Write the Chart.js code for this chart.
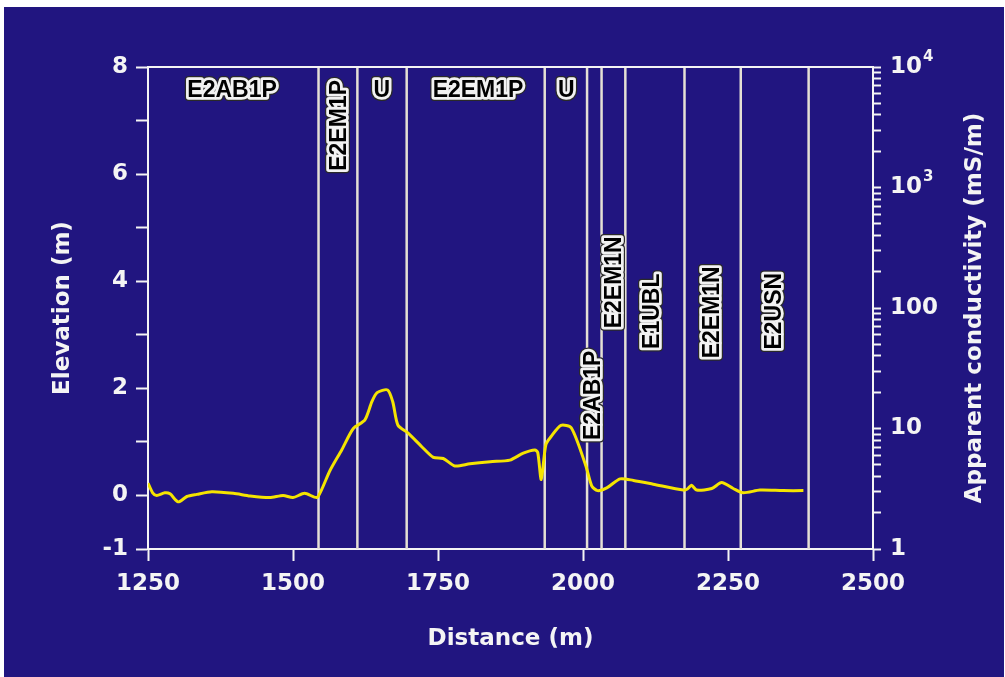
<!DOCTYPE html>
<html>
<head>
<meta charset="utf-8">
<script src="https://cdn.jsdelivr.net/npm/chart.js@4/dist/chart.umd.min.js"></script>
<style>
  html, body { margin: 0; padding: 0; background: #fff; }
  #wrap {
    position: absolute; left: 4px; top: 7px;
    width: 1000px; height: 670px;
    background: #211580;
  }
</style>
</head>
<body>
<div id="wrap"><canvas id="chart"></canvas></div>
<script>
/* ── Data ───────────────────────────────────────────────── */

// elevation profile along the transect
const distance  = [1250, 1258, 1265, 1279, 1288, 1302, 1317, 1334, 1360, 1397,
                   1426, 1460, 1483, 1500, 1520, 1541, 1549, 1564, 1584, 1604,
                   1624, 1636, 1645, 1663, 1672, 1681, 1699, 1722, 1742, 1759,
                   1779, 1805, 1840, 1874, 1897, 1917, 1922, 1928, 1936, 1945,
                   1962, 1980, 2005, 2015, 2025, 2041, 2064, 2087, 2121, 2173,
                   2180, 2187, 2196, 2222, 2239, 2259, 2276, 2305, 2345, 2380];
const elevation = [0.23, 0.05, 0.00, 0.05, 0.03, -0.12, -0.02, 0.02, 0.07, 0.04,
                   -0.01, -0.04, 0.00, -0.04, 0.04, -0.04, 0.10, 0.47, 0.85, 1.25,
                   1.41, 1.75, 1.92, 1.97, 1.75, 1.31, 1.16, 0.91, 0.71, 0.69,
                   0.55, 0.59, 0.63, 0.66, 0.79, 0.85, 0.80, 0.30, 0.95, 1.10,
                   1.31, 1.26, 0.55, 0.18, 0.09, 0.14, 0.31, 0.28, 0.21, 0.10,
                   0.12, 0.19, 0.10, 0.13, 0.24, 0.13, 0.05, 0.10, 0.09, 0.09];

// unit boundaries (m)
const boundaries = [1544, 1611, 1696, 1934, 2007, 2032, 2073, 2175, 2272, 2389];

// unit labels, anchored in data coordinates
const unitNames    = ['E2AB1P', 'E2EM1P', 'U', 'E2EM1P', 'U', 'E2AB1P', 'E2EM1N', 'E1UBL', 'E2EM1N', 'E2USN'];
const unitDist     = [1395, 1579, 1653, 1819, 1971, 2017, 2053, 2119, 2222, 2329];
const unitElev     = [7.58, 6.91, 7.58, 7.58, 7.58, 1.87, 3.98, 3.44, 3.42, 3.44];
const unitVertical = [false, true, false, false, false, true, true, true, true, true];

// tick labels
const elevLabels = [-1, 0, 2, 4, 6, 8];
const condBase   = { 1: '1', 10: '10', 100: '100', 1000: '10', 10000: '10' };
const condExp    = { 1000: '3', 10000: '4' };


/* ── Config ─────────────────────────────────────────────── */

const FONT   = '"DejaVu Sans", sans-serif';
const LFONT  = '"Liberation Sans", Arial, sans-serif';
const WHITE  = '#f4f4f4';

const axisFont = { family: FONT, size: 23, weight: 'bold' };


/* ── Plugins ────────────────────────────────────────────── */

const overlay = {
  id: 'overlay',
  beforeDatasetsDraw(chart) {
    const { ctx, chartArea: a, scales: { x } } = chart;
    ctx.save();
    ctx.strokeStyle = '#e4e0d4';
    ctx.lineWidth = 2.5;
    boundaries.forEach(b => {
      const px = x.getPixelForValue(b);
      ctx.beginPath();
      ctx.moveTo(px, a.top);
      ctx.lineTo(px, a.bottom);
      ctx.stroke();
    });
    // top frame line
    ctx.strokeStyle = WHITE;
    ctx.lineWidth = 2;
    ctx.beginPath();
    ctx.moveTo(a.left, a.top);
    ctx.lineTo(a.right, a.top);
    ctx.stroke();
    ctx.restore();
  },
  afterDraw(chart) {
    const { ctx, chartArea: a, scales: { x, y, y2 } } = chart;
    ctx.save();
    ctx.font = 'bold 23px ' + LFONT;
    ctx.textAlign = 'center';
    ctx.textBaseline = 'middle';
    ctx.lineJoin = 'round';
    unitNames.forEach((name, i) => {
      ctx.save();
      ctx.translate(x.getPixelForValue(unitDist[i]), y.getPixelForValue(unitElev[i]));
      if (unitVertical[i]) ctx.rotate(-Math.PI / 2);
      ctx.strokeStyle = '#2a2a2a';
      ctx.lineWidth = 8;
      ctx.strokeText(name, 0, 1);
      ctx.strokeStyle = '#f2f2f2';
      ctx.lineWidth = 5.5;
      ctx.strokeText(name, 0, 1);
      ctx.fillStyle = '#000';
      ctx.fillText(name, 0, 1);
      ctx.restore();
    });

    // exponents on the conductivity labels
    ctx.fillStyle = WHITE;
    ctx.textAlign = 'left';
    ctx.font = 'bold 23px ' + FONT;
    const baseW = ctx.measureText('10').width;
    ctx.font = 'bold 15px ' + FONT;
    Object.keys(condExp).forEach(v => {
      const py = y2.getPixelForValue(Number(v));
      ctx.fillText(condExp[v], a.right + 8 + 9 + baseW + 1, py - 10);
    });

    // right axis title reads bottom-to-top
    ctx.save();
    ctx.translate(971, (a.top + a.bottom) / 2);
    ctx.rotate(-Math.PI / 2);
    ctx.textAlign = 'center';
    ctx.font = 'bold 23px ' + FONT;
    ctx.fillText('Apparent conductivity (mS/m)', 0, 0);
    ctx.restore();
    ctx.restore();
  }
};


/* ── Chart ──────────────────────────────────────────────── */

new Chart(document.getElementById('chart'), {
  type: 'line',
  data: {
    datasets: [{
      data: distance.map((d, i) => ({ x: d, y: elevation[i] })),
      borderColor: '#f5e400',
      borderWidth: 3,
      pointRadius: 0,
      tension: 0.25,
      yAxisID: 'y'
    }]
  },
  options: {
    responsive: true,
    maintainAspectRatio: false,
    animation: false,
    layout: { padding: { top: 60, left: 0, right: 0, bottom: 0 } },
    plugins: { legend: { display: false }, tooltip: { enabled: false } },
    scales: {
      x: {
        type: 'linear', min: 1250, max: 2500,
        afterFit: s => { s.height = 128; },
        border: { color: WHITE, width: 2 },
        grid: { drawOnChartArea: false, color: WHITE, tickLength: 12, tickWidth: 2 },
        ticks: {
          stepSize: 250, color: WHITE, font: axisFont, padding: 9, maxRotation: 0,
          callback: v => String(v)
        },
        title: { display: true, text: 'Distance (m)', color: WHITE, font: axisFont, padding: { bottom: 24 } }
      },
      y: {
        position: 'left', min: -1, max: 8,
        afterFit: s => { s.width = 144; },
        border: { color: WHITE, width: 2 },
        grid: { drawOnChartArea: false, color: WHITE, tickLength: 12, tickWidth: 2 },
        ticks: {
          stepSize: 1, color: WHITE, font: axisFont, padding: 8, autoSkip: false,
          callback: v => elevLabels.includes(v) ? String(v) : ''
        },
        title: { display: true, text: 'Elevation (m)', color: WHITE, font: axisFont, padding: { top: 45 } }
      },
      y2: {
        type: 'logarithmic', position: 'right', min: 1, max: 10000,
        afterFit: s => { s.width = 131; },
        afterBuildTicks: s => {
          s.ticks = s.ticks.filter(t => {
            const m = t.value / Math.pow(10, Math.floor(Math.log10(t.value) + 1e-9));
            return Math.abs(m - Math.round(m)) < 1e-6;
          });
        },
        border: { color: WHITE, width: 2 },
        grid: { drawOnChartArea: false, color: WHITE, tickLength: 8, tickWidth: 2 },
        ticks: {
          color: WHITE, font: axisFont, padding: 9, autoSkip: false,
          callback: v => condBase[v] || ''
        }
      }
    }
  },
  plugins: [overlay]
});
</script>
</body>
</html>
